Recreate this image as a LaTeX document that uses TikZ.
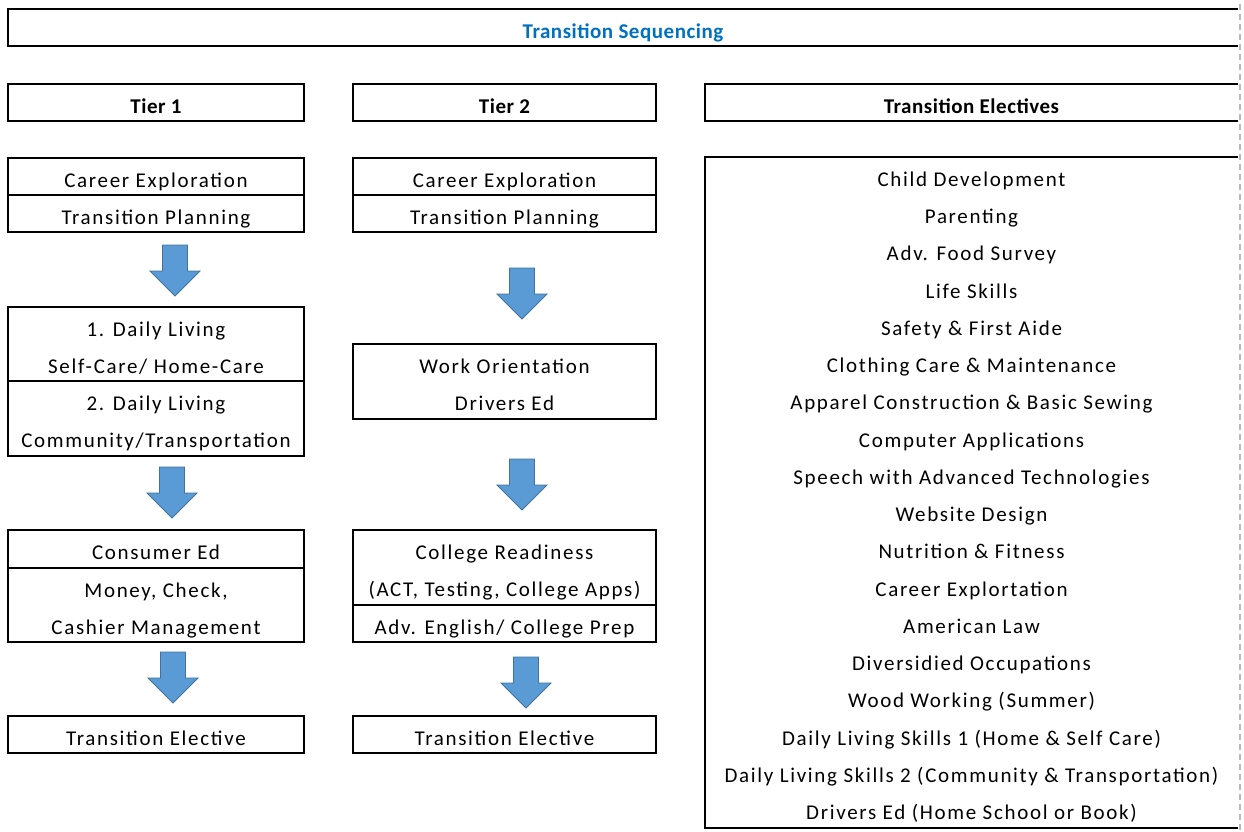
\documentclass[tikz,border=0pt]{standalone}
\usepackage{fontspec}
\setmainfont{Carlito}
\newfontfamily\spaced{Carlito}[LetterSpace=8]
\newfontfamily\spacedbold{Carlito}[LetterSpace=2.5]
\usetikzlibrary{positioning}
\definecolor{arrowblue}{RGB}{91,155,213}
\definecolor{arrowedge}{RGB}{65,113,156}
\definecolor{titleblue}{RGB}{0,112,192}
\newcommand{\cellstrut}{\rule[-8pt]{0pt}{37pt}}
\tikzset{
  box-line/.style={line width=1.8pt},
  cell/.style={
    box-line,
    draw=black,
    rectangle,
    inner sep=0pt,
    outer sep=0pt,
    align=center,
    minimum height=37pt,
    font=\spaced\fontsize{21}{37}\selectfont,
    execute at begin node=\cellstrut,
    execute at end node=\cellstrut
  },
  cell-one/.style={cell, minimum width=296pt},
  cell-two/.style={cell, minimum width=303pt},
  cell-head/.style={cell, font=\spacedbold\bfseries\fontsize{21}{37}\selectfont},
  open-box/.style={cell-head, draw=none},
  block-arrow/.style={fill=arrowblue, draw=arrowedge, line width=0.8pt, line join=miter},
  page-edge/.style={draw=gray!55, line width=1.6pt, dash pattern=on 6pt off 4pt}
}
\newcommand{\downblock}[1]{
  \filldraw[block-arrow, shift={(#1)}] (-12.5,0) -- (12.5,0) -- (12.5,26) -- (25,26)
    -- (0,51) -- (-25,26) -- (-12.5,26) -- cycle;
}

\begin{document}
\begin{tikzpicture}[x=1pt, y=-1pt]
  \useasboundingbox (0,0) rectangle (1244,831);
  % Title bar
  \node[open-box, text=titleblue, minimum width=1230pt, minimum height=36pt, anchor=north west] (title) at (8,9) {Transition Sequencing};
  \draw[box-line] (title.north east) -- (title.north west) -- (title.south west) -- (title.south east);
  % Column headers
  \node[cell-head, minimum width=296pt, anchor=north west] (tier-one) at (8,84) {Tier 1};
  \node[cell-head, minimum width=303pt, anchor=north west] (tier-two) at (353,84) {Tier 2};
  \node[open-box, minimum width=533pt, anchor=north west] (electives-head) at (705,84) {Transition Electives};
  \draw[box-line] (electives-head.north east) -- (electives-head.north west) -- (electives-head.south west) -- (electives-head.south east);
  % Tier 1 column
  \node[cell-one, anchor=north west] (t1-career) at (8,158) {Career Exploration};
  \node[cell-one, below=0pt of t1-career] (t1-plan) {Transition Planning};
  \node[cell-one, minimum height=74pt, anchor=north west] (t1-living1) at (8,307) {\cellstrut 1. Daily Living\\Self-Care/ Home-Care};
  \node[cell-one, minimum height=75pt, below=0pt of t1-living1] (t1-living2) {\cellstrut 2. Daily Living\\Community/Transportation};
  \node[cell-one, minimum height=38pt, anchor=north west] (t1-consumer) at (8,530) {Consumer Ed};
  \node[cell-one, minimum height=74pt, below=0pt of t1-consumer] (t1-money) {\cellstrut Money, Check,\\Cashier Management};
  \node[cell-one, anchor=north west] (t1-elective) at (8,716) {Transition Elective};
  % Tier 2 column
  \node[cell-two, anchor=north west] (t2-career) at (353,158) {Career Exploration};
  \node[cell-two, below=0pt of t2-career] (t2-plan) {Transition Planning};
  \node[cell-two, minimum height=75pt, anchor=north west] (t2-work) at (353,344) {\cellstrut Work Orientation\\Drivers Ed};
  \node[cell-two, minimum height=75pt, anchor=north west] (t2-college) at (353,530) {\cellstrut College Readiness\\(ACT, Testing, College Apps)};
  \node[cell-two, below=0pt of t2-college] (t2-english) {Adv. English/ College Prep};
  \node[cell-two, anchor=north west] (t2-elective) at (353,716) {Transition Elective};
  % Electives list
  \node[open-box, font=\spaced\fontsize{21}{37.24}\selectfont, minimum width=533pt, minimum height=671pt, anchor=north west] (electives) at (705,157) {\cellstrut Child Development\\Parenting\\Adv. Food Survey\\Life Skills\\Safety \& First Aide\\Clothing Care \& Maintenance\\Apparel Construction \& Basic Sewing\\Computer Applications\\Speech with Advanced Technologies\\Website Design\\Nutrition \& Fitness\\Career Explortation\\American Law\\Diversidied Occupations\\Wood Working (Summer)\\Daily Living Skills 1 (Home \& Self Care)\\Daily Living Skills 2 (Community \& Transportation)\\Drivers Ed (Home School or Book)};
  \draw[box-line] (electives.north east) -- (electives.north west) -- (electives.south west) -- (electives.south east);
  % Block arrows
  \coordinate (a1-top) at (175,245);
  \coordinate (a2-top) at (172,467);
  \coordinate (a3-top) at (173,652);
  \coordinate (b1-top) at (522,268);
  \coordinate (b2-top) at (522,459);
  \coordinate (b3-top) at (526,657);
  \foreach \a in {a1-top,a2-top,a3-top,b1-top,b2-top,b3-top}{
    \downblock{\a}
  }
  % Page edge
  \coordinate (edge-top) at (1240,4);
  \coordinate (edge-bottom) at (1240,831);
  \draw[page-edge] (edge-top) -- (edge-bottom);
\end{tikzpicture}
\end{document}
